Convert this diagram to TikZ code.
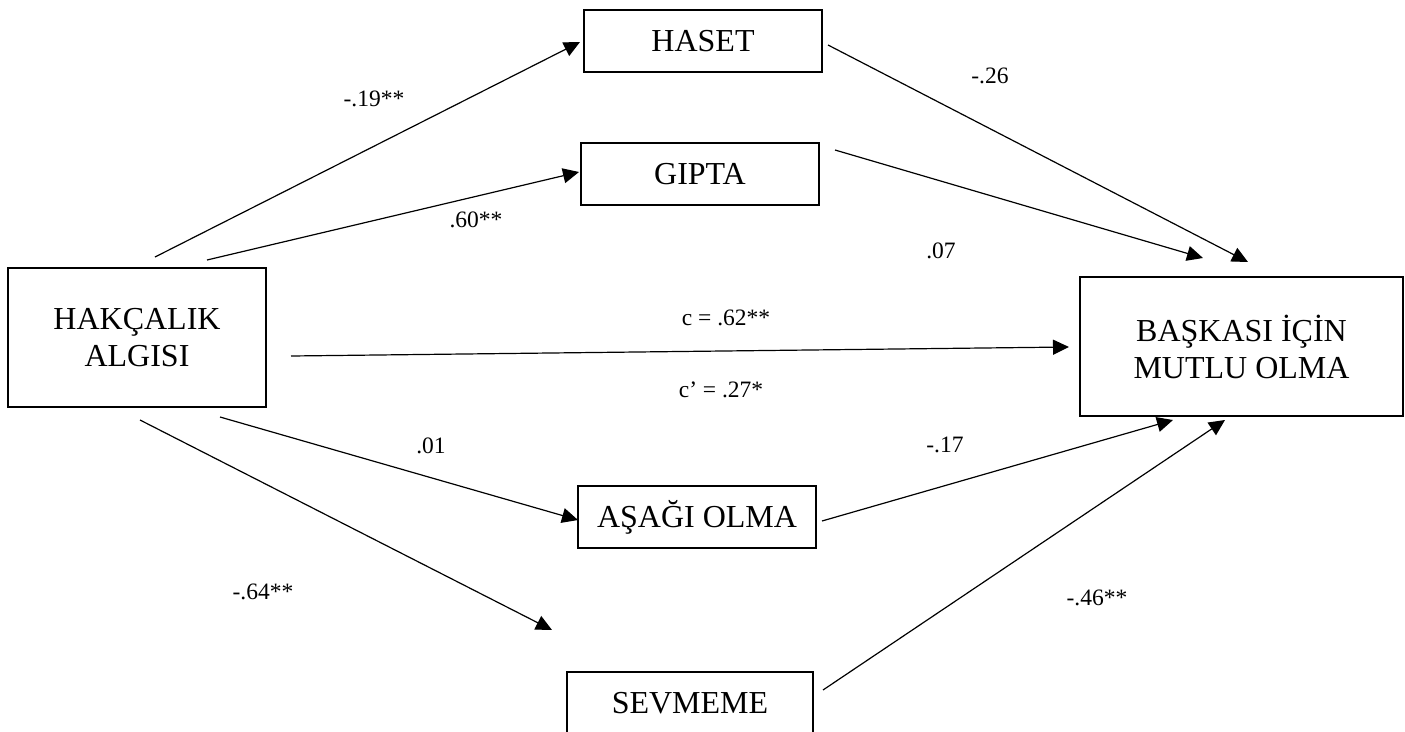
\documentclass[tikz,border=0pt]{standalone}
\usepackage{fontspec}
\setmainfont{Liberation Serif}
\usetikzlibrary{arrows.meta}
\begin{document}
\begin{tikzpicture}[x=1pt,y=-1pt,
  box/.style={draw,line width=1.3pt,inner sep=0pt,align=center,font=\fontsize{32}{37}\selectfont},
  conn/.style={line width=1.2pt,-{Triangle[length=16pt,width=15pt]}},
  lab/.style={font=\fontsize{23.5}{27}\selectfont,inner sep=0pt}]
\useasboundingbox (0,0) rectangle (1405,731);
\clip (0,0) rectangle (1405,731);
\node[box,minimum width=258pt,minimum height=139pt] (hak) at (137,337.5) {HAKÇALIK\\ALGISI};
\node[box,minimum width=238pt,minimum height=62pt] (haset) at (703,41) {HASET};
\node[box,minimum width=238pt,minimum height=62pt] (gipta) at (700,174) {GIPTA};
\node[box,minimum width=323pt,minimum height=139pt] (bask) at (1241.5,346.5) {BAŞKASI İÇİN\\MUTLU OLMA};
\node[box,minimum width=238pt,minimum height=62pt] (asagi) at (697,517) {AŞAĞI OLMA};
\node[box,minimum width=246pt,minimum height=62pt] (sev) at (690,703) {SEVMEME};
% connector ends
\coordinate (h1) at (155,257); \coordinate (t1) at (580,42);
\coordinate (h2) at (207,260); \coordinate (t2) at (579,172);
\coordinate (h3) at (291,356); \coordinate (t3) at (1069,347);
\coordinate (h4) at (220,417); \coordinate (t4) at (578,520);
\coordinate (h5) at (140,420); \coordinate (t5) at (552,630);
\coordinate (s1) at (828,45);  \coordinate (e1) at (1248,262);
\coordinate (s2) at (835,150); \coordinate (e2) at (1203,258);
\coordinate (s3) at (822,521); \coordinate (e3) at (1173,420);
\coordinate (s4) at (823,690); \coordinate (e4) at (1225,420);
\draw[conn] (h1) -- (t1);
\draw[conn] (h2) -- (t2);
\draw[conn] (h3) -- (t3);
\draw[conn] (h4) -- (t4);
\draw[conn] (h5) -- (t5);
\draw[conn] (s1) -- (e1);
\draw[conn] (s2) -- (e2);
\draw[conn] (s3) -- (e3);
\draw[conn] (s4) -- (e4);
% labels
\node[lab] (l1) at (374,99) {-.19**};
\node[lab] (l2) at (990,76) {-.26};
\node[lab] (l3) at (476,220) {.60**};
\node[lab] (l4) at (941,251) {.07};
\node[lab] (l5) at (726,318) {c = .62**};
\node[lab] (l6) at (721,390) {c’ = .27*};
\node[lab] (l7) at (431,446) {.01};
\node[lab] (l8) at (945,445) {-.17};
\node[lab] (l9) at (263,592) {-.64**};
\node[lab] (l10) at (1097,598) {-.46**};
\end{tikzpicture}
\end{document}
